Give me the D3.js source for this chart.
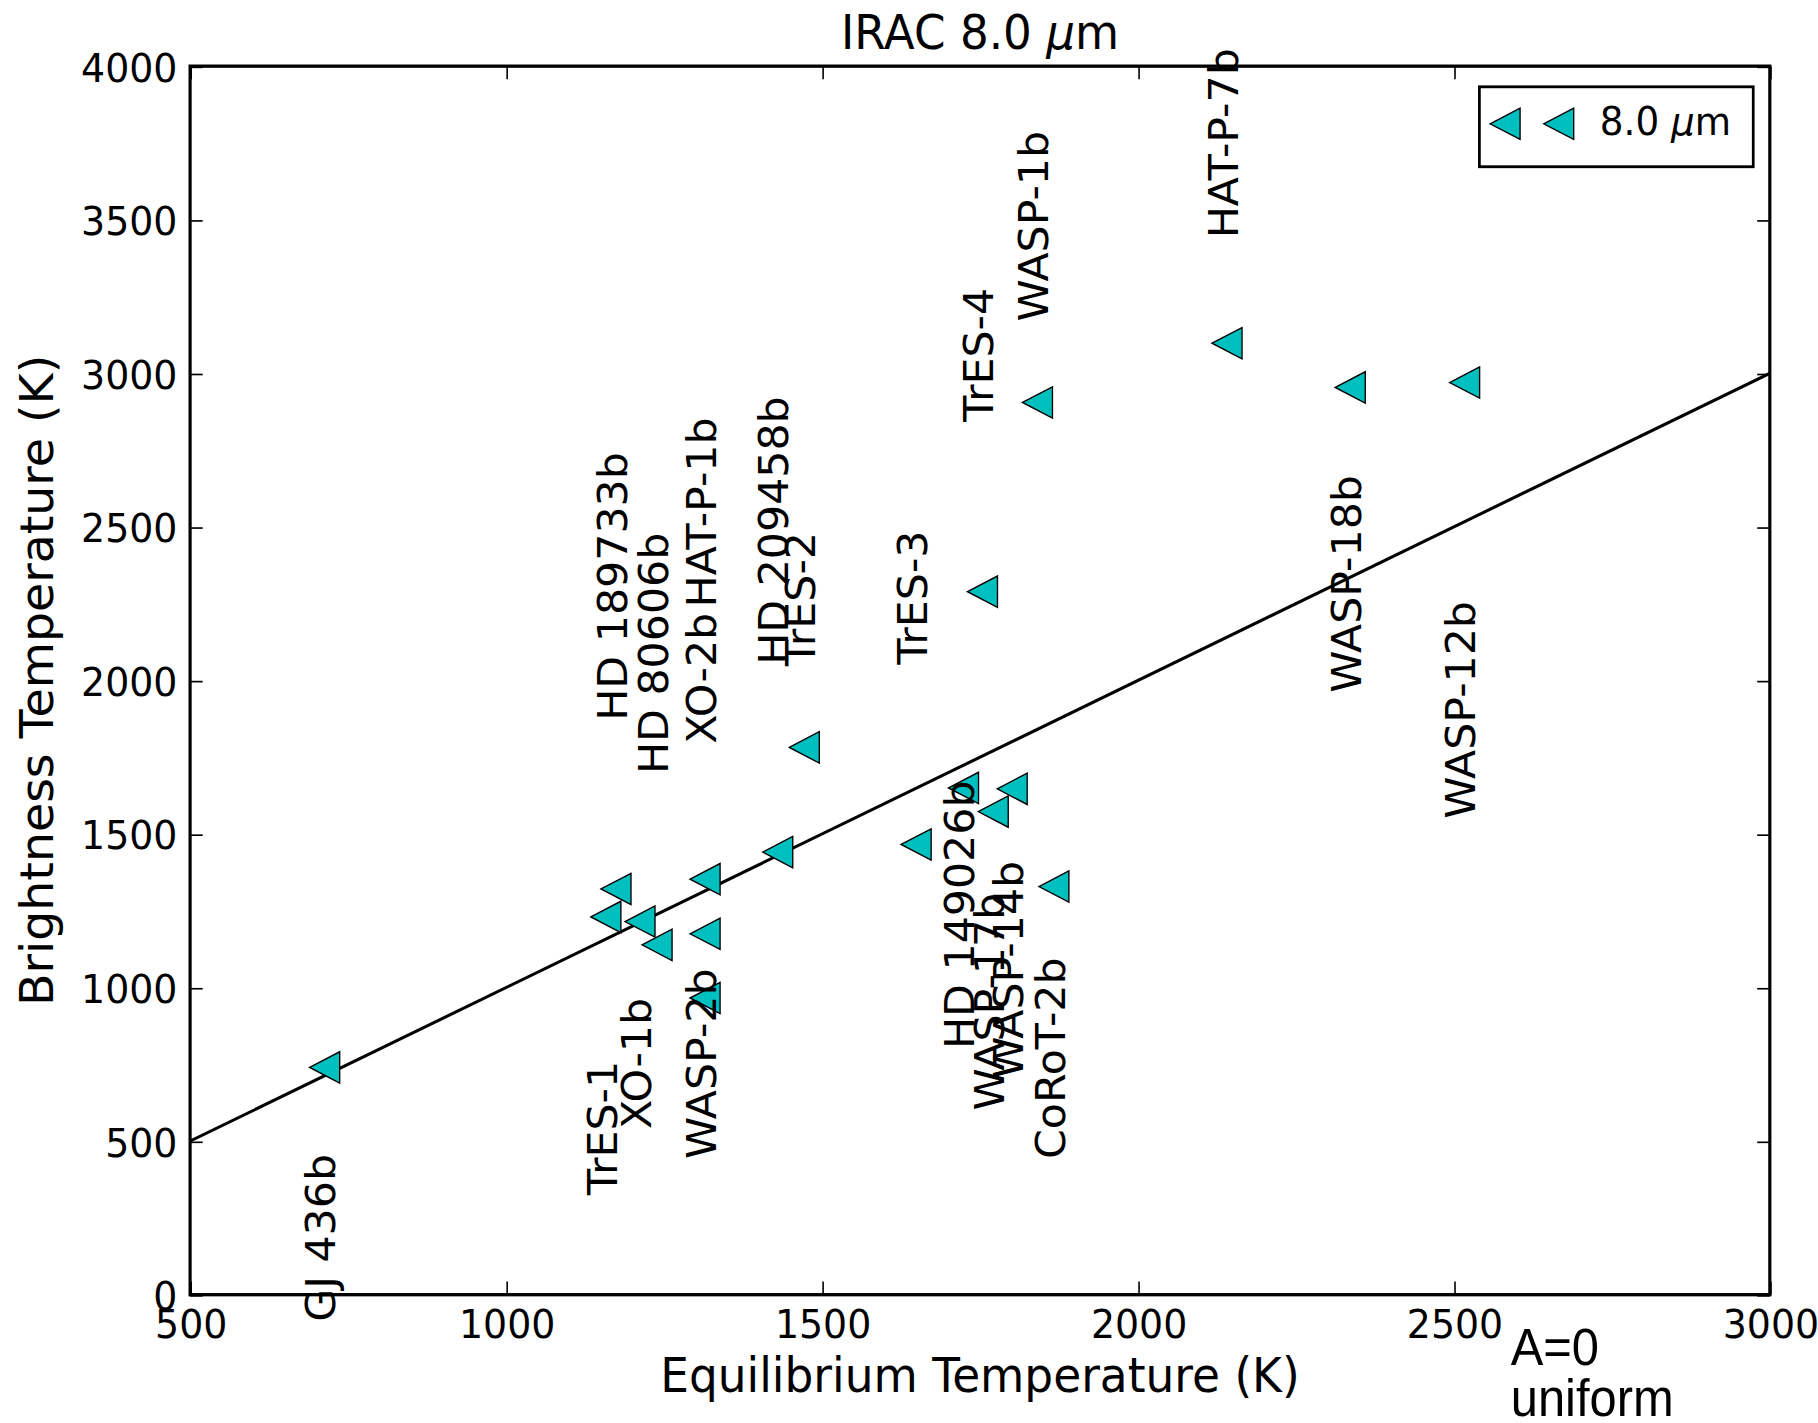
<!DOCTYPE html>
<html>
<head>
<meta charset="utf-8">
<script src="https://cdn.jsdelivr.net/npm/d3@7"></script>
<style>
  html, body { margin: 0; padding: 0; background: #fff; }
  svg { display: block; }
</style>
</head>
<body>
<script>
// Planets observed with IRAC at 8.0 micron
const planets = ["GJ 436b", "TrES-1", "HD 189733b", "XO-1b", "HD 80606b",
  "HAT-P-1b", "XO-2b", "WASP-2b", "HD 209458b", "TrES-2", "TrES-3",
  "HD 149026b", "TrES-4", "WASP-17b", "WASP-14b", "WASP-1b", "CoRoT-2b",
  "HAT-P-7b", "WASP-18b", "WASP-12b"];
// Equilibrium temperature (K)
const tEq = [713, 1158, 1174, 1212, 1239, 1315, 1315, 1315, 1430, 1472, 1649,
  1724, 1754, 1771, 1801, 1841, 1867, 2141, 2336, 2517];
// Brightness temperature at 8.0 micron (K)
const tBright = [740, 1230, 1321, 1215, 1139, 1353, 1175, 966, 1441, 1782, 1466,
  1650, 2289, 1573, 1647, 2905, 1329, 3098, 2954, 2970];
// Temperature at which each planet's name is centred (K)
const labelT = [185, 543, 2306, 753, 2088, 2547, 2007, 752, 2488, 2265, 2270,
  1237, 3060, 954, 1058, 3479, 770, 3749, 2314, 1904];
// One-to-one reference line (Tb = Teq)
const oneToOne = [0, 4000];
const xTicks = [500, 1000, 1500, 2000, 2500, 3000];
const yTicks = [0, 500, 1000, 1500, 2000, 2500, 3000, 3500, 4000];
const xDomain = [500, 3000];
const yDomain = [0, 4000];

// The drawing is laid out on an 800 x 600 canvas stretched to the page size.
const W = 1818, H = 1423, VW = 800, VH = 600;
const plot = { left: 83.65, right: 778.8, top: 27.9, bottom: 545.9 };
const FONT = "'DejaVu Sans', sans-serif";
const teal = "#00bfbf";
const tickLen = 5.56;

const svg = d3.select("body").append("svg")
  .attr("width", W).attr("height", H)
  .attr("viewBox", `0 0 ${VW} ${VH}`)
  .attr("preserveAspectRatio", "none");

svg.append("rect").attr("width", VW).attr("height", VH).attr("fill", "#fff");

const x = d3.scaleLinear().domain(xDomain).range([plot.left, plot.right]);
const y = d3.scaleLinear().domain(yDomain).range([plot.bottom, plot.top]);

svg.append("clipPath").attr("id", "plot-clip")
  .append("rect")
  .attr("x", plot.left).attr("y", plot.top)
  .attr("width", plot.right - plot.left).attr("height", plot.bottom - plot.top);

// Tb = Teq line
const line = d3.line().x(d => x(d)).y(d => y(d));
svg.append("path")
  .attr("clip-path", "url(#plot-clip)")
  .attr("d", line(oneToOne))
  .attr("fill", "none")
  .attr("stroke", "#000")
  .attr("stroke-width", 1.3);

// left-pointing triangle marker
const tri = s => `M${-s},0L${s},${-s}L${s},${s}Z`;

const pts = planets.map((name, i) => ({ name, teq: tEq[i], tb: tBright[i], lt: labelT[i] }));

svg.append("g").selectAll("path").data(pts).join("path")
  .attr("transform", d => `translate(${x(d.teq)},${y(d.tb)})`)
  .attr("d", tri(6.6))
  .attr("fill", teal)
  .attr("stroke", "#000")
  .attr("stroke-width", 0.6);

// Planet names, written vertically
svg.append("g").selectAll("text").data(pts).join("text")
  .attr("transform", d => `translate(${x(d.teq)},${y(d.lt)}) rotate(-90)`)
  .attr("text-anchor", "middle")
  .attr("dy", "0.262em")
  .attr("font-family", FONT)
  .attr("font-size", 18)
  .attr("fill", "#000")
  .text(d => d.name);

// Axes with inward ticks on all four sides
const tickFont = 16.67;
const gx = svg.append("g").attr("transform", `translate(0,${plot.bottom})`)
  .call(d3.axisBottom(x).tickValues(xTicks).tickFormat(d3.format("d"))
    .tickSizeInner(-tickLen).tickSizeOuter(0).tickPadding(6.4));
const gxt = svg.append("g").attr("transform", `translate(0,${plot.top})`)
  .call(d3.axisTop(x).tickValues(xTicks).tickFormat("")
    .tickSizeInner(-tickLen).tickSizeOuter(0));
const gy = svg.append("g").attr("transform", `translate(${plot.left},0)`)
  .call(d3.axisLeft(y).tickValues(yTicks).tickFormat(d3.format("d"))
    .tickSizeInner(-tickLen).tickSizeOuter(0).tickPadding(5.56));
const gyr = svg.append("g").attr("transform", `translate(${plot.right},0)`)
  .call(d3.axisRight(y).tickValues(yTicks).tickFormat("")
    .tickSizeInner(-tickLen).tickSizeOuter(0));

[gx, gxt, gy, gyr].forEach(g => {
  g.select(".domain").remove();
  g.selectAll(".tick line").attr("stroke", "#000").attr("stroke-width", 0.7);
  g.selectAll("text").attr("font-family", FONT).attr("font-size", tickFont).attr("fill", "#000");
});
gy.selectAll("text").attr("dy", "0.36em");

// Frame
svg.append("rect")
  .attr("x", plot.left).attr("y", plot.top)
  .attr("width", plot.right - plot.left).attr("height", plot.bottom - plot.top)
  .attr("fill", "none").attr("stroke", "#000").attr("stroke-width", 1.4);

// Title
const title = svg.append("text")
  .attr("x", (plot.left + plot.right) / 2).attr("y", 20.5)
  .attr("text-anchor", "middle")
  .attr("font-family", FONT).attr("font-size", 19.9).attr("fill", "#000");
title.append("tspan").text("IRAC 8.0 ");
title.append("tspan").attr("font-style", "italic").text("μ");
title.append("tspan").text("m");

// Axis labels
svg.append("text")
  .attr("x", (plot.left + plot.right) / 2).attr("y", 587)
  .attr("text-anchor", "middle")
  .attr("font-family", FONT).attr("font-size", 20).attr("fill", "#000")
  .text("Equilibrium Temperature (K)");

svg.append("text")
  .attr("transform", `translate(23.5,${(plot.top + plot.bottom) / 2}) rotate(-90)`)
  .attr("text-anchor", "middle")
  .attr("font-family", FONT).attr("font-size", 20).attr("fill", "#000")
  .text("Brightness Temperature (K)");

// Legend
const legend = svg.append("g");
legend.append("rect")
  .attr("x", 651).attr("y", 36.6).attr("width", 120.5).attr("height", 33.7)
  .attr("fill", "#fff").attr("stroke", "#000").attr("stroke-width", 1.2);
legend.selectAll("path").data([662.3, 685.9]).join("path")
  .attr("transform", d => `translate(${d},52.2)`)
  .attr("d", tri(6.6))
  .attr("fill", teal).attr("stroke", "#000").attr("stroke-width", 0.6);
const lt = legend.append("text")
  .attr("x", 704).attr("y", 57)
  .attr("font-family", FONT).attr("font-size", 16.4).attr("fill", "#000");
lt.append("tspan").text("8.0 ");
lt.append("tspan").attr("font-style", "italic").text("μ");
lt.append("tspan").text("m");

// Model note
const note = svg.append("text")
  .attr("font-family", "'Liberation Sans', Arial, sans-serif")
  .attr("font-size", 21.5).attr("fill", "#000");
note.append("tspan").attr("x", 664.8).attr("y", 575.4).text("A=0");
note.append("tspan").attr("x", 664.8).attr("y", 596.9).text("uniform");
</script>
</body>
</html>
